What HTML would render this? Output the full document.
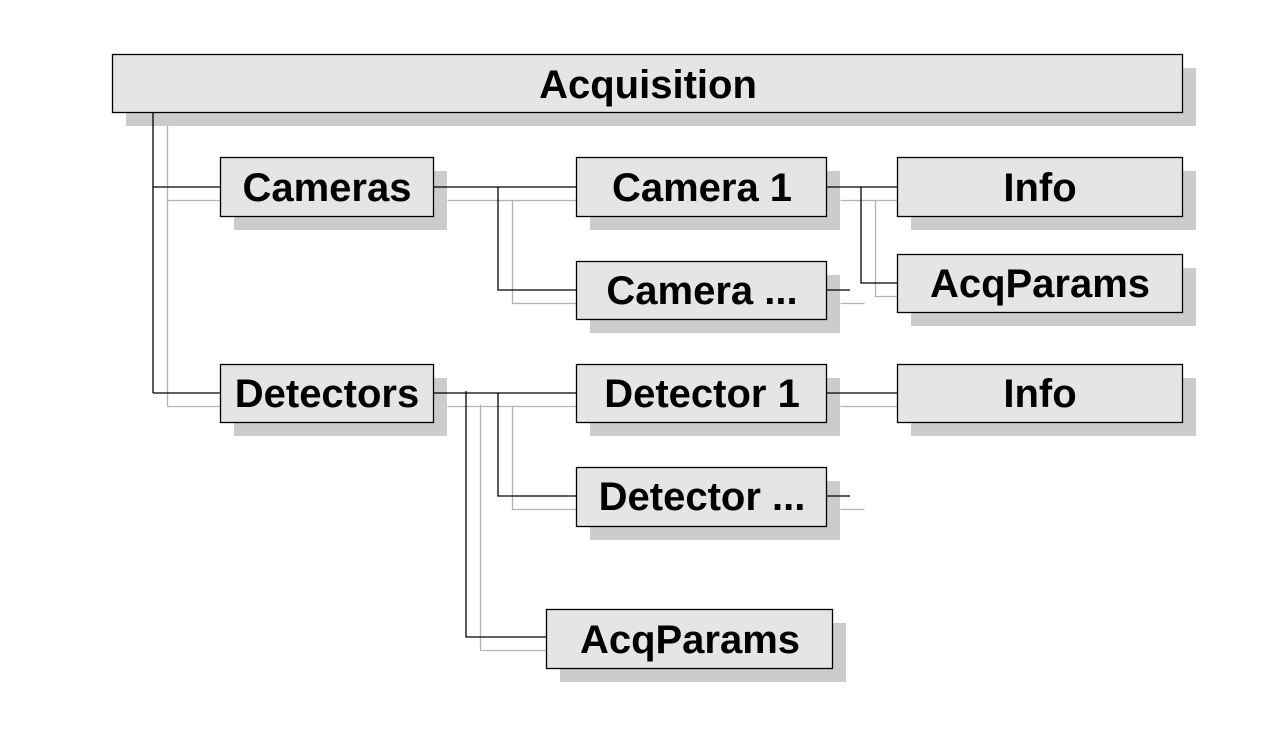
<!DOCTYPE html>
<html><head><style>body{margin:0;background:#fff}svg{display:block}</style></head><body>
<svg width="1261" height="742" viewBox="0 0 1261 742" xmlns="http://www.w3.org/2000/svg">
<defs>
<g id="lines" fill="none">
<path d="M153 112V393M153 187H220M153 393H220"/>
<path d="M433 187H576M498 187V290H576"/>
<path d="M826 187H897M861 187V283H897M826 290H850"/>
<path d="M433 393H576M466 391V637H546M498 393V496H576"/>
<path d="M826 393H897M826 496H850"/>
</g>
</defs>
<use href="#lines" transform="translate(14.5,13.5)" stroke="#b3b3b3" stroke-width="1.3"/>
<g fill="#cccccc">
<rect x="126" y="68" width="1070" height="58"/>
<rect x="234" y="171" width="213" height="59"/>
<rect x="590" y="171" width="250" height="59"/>
<rect x="911" y="171" width="285" height="59"/>
<rect x="590" y="275" width="250" height="58"/>
<rect x="911" y="268" width="285" height="58"/>
<rect x="234" y="378" width="213" height="58"/>
<rect x="590" y="378" width="250" height="58"/>
<rect x="911" y="378" width="285" height="58"/>
<rect x="590" y="481" width="250" height="59"/>
<rect x="560" y="623" width="286" height="59"/>
</g>
<g fill="#e5e5e5" stroke="#000" stroke-width="1.3">
<rect x="112.5" y="54.5" width="1070" height="58"/>
<rect x="220.5" y="157.5" width="213" height="59"/>
<rect x="576.5" y="157.5" width="250" height="59"/>
<rect x="897.5" y="157.5" width="285" height="59"/>
<rect x="576.5" y="261.5" width="250" height="58"/>
<rect x="897.5" y="254.5" width="285" height="58"/>
<rect x="220.5" y="364.5" width="213" height="58"/>
<rect x="576.5" y="364.5" width="250" height="58"/>
<rect x="897.5" y="364.5" width="285" height="58"/>
<rect x="576.5" y="467.5" width="250" height="59"/>
<rect x="546.5" y="609.5" width="286" height="59"/>
</g>
<use href="#lines" stroke="#000" stroke-width="1.3"/>
<g font-family="Liberation Sans, sans-serif" font-weight="bold" font-size="40" text-anchor="middle" fill="#000">
<text x="648" y="98">Acquisition</text>
<text x="327" y="201">Cameras</text>
<text x="702" y="201">Camera 1</text>
<text x="1040" y="201">Info</text>
<text x="702" y="304">Camera ...</text>
<text x="1040" y="297">AcqParams</text>
<text x="327" y="407">Detectors</text>
<text x="702" y="407">Detector 1</text>
<text x="1040" y="407">Info</text>
<text x="702" y="510">Detector ...</text>
<text x="690" y="653">AcqParams</text>
</g>
</svg>
</body></html>
